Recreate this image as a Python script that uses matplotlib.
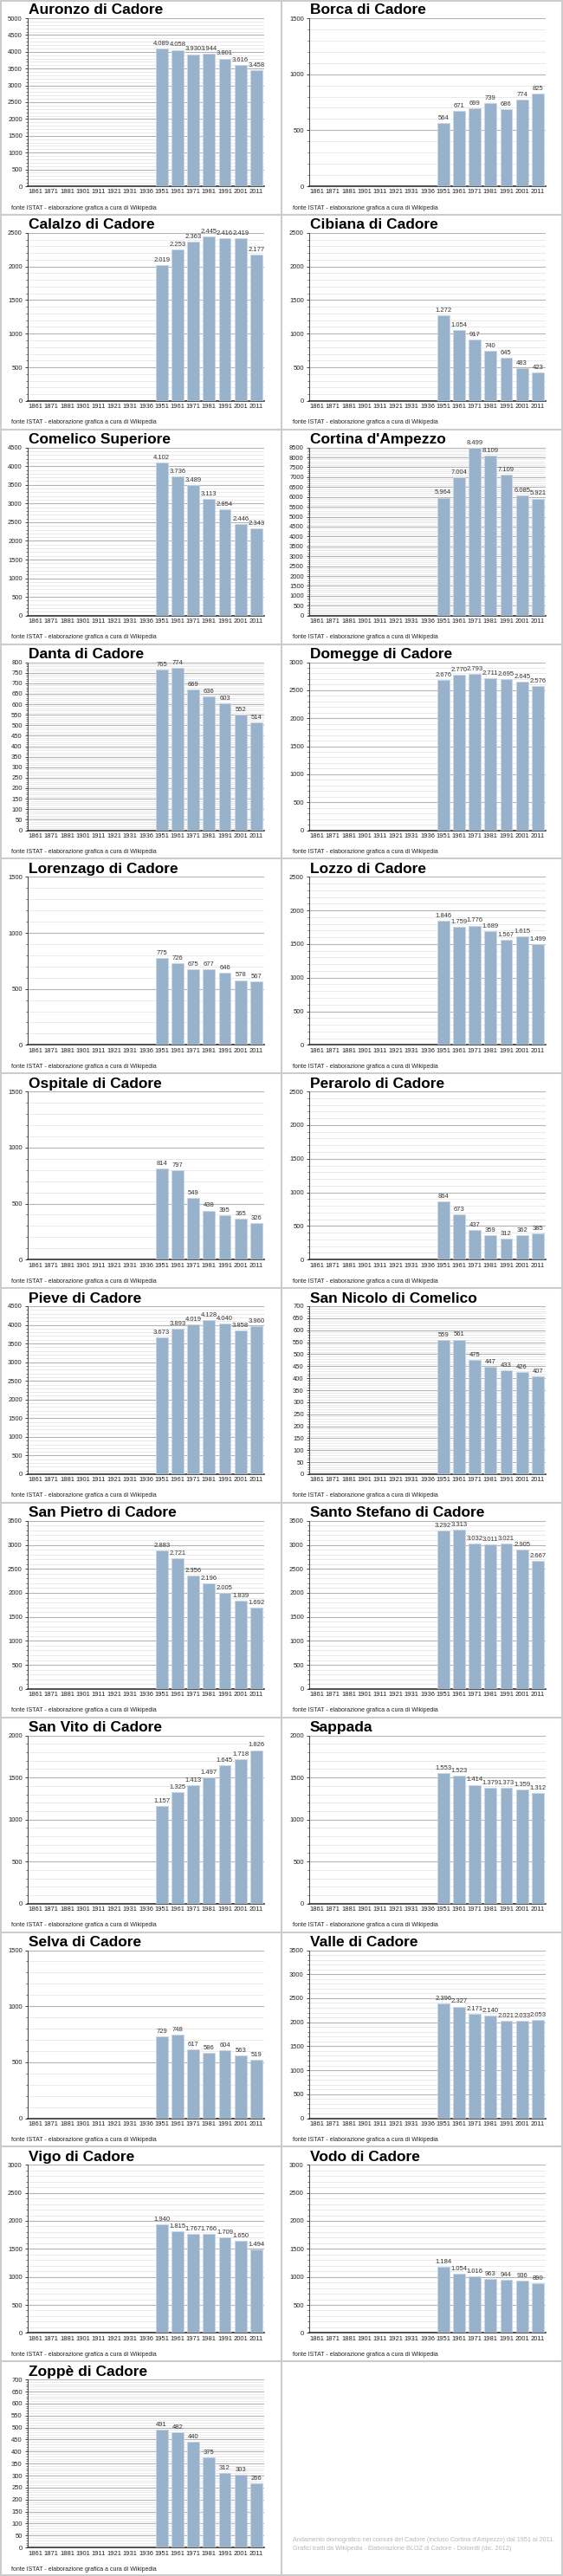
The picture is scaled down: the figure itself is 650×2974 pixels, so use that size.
import matplotlib.pyplot as plt
from matplotlib.lines import Line2D
from matplotlib.ticker import MultipleLocator

plt.rcParams['font.family'] = ['Liberation Sans Narrow', 'Liberation Sans', 'DejaVu Sans']

# census years on the x axis, only the last seven have data
years = ['1861', '1871', '1881', '1901', '1911', '1921', '1931', '1936',
         '1951', '1961', '1971', '1981', '1991', '2001', '2011']
data_years = ['1951', '1961', '1971', '1981', '1991', '2001', '2011']

auronzo = [4089, 4058, 3930, 3944, 3801, 3616, 3458]
borca = [564, 671, 699, 739, 686, 774, 825]
calalzo = [2019, 2253, 2363, 2445, 2416, 2419, 2177]
cibiana = [1272, 1054, 917, 740, 645, 483, 423]
comelico = [4102, 3736, 3489, 3113, 2854, 2446, 2343]
cortina = [5964, 7004, 8499, 8109, 7109, 6085, 5921]
danta = [765, 774, 669, 636, 603, 552, 514]
domegge = [2676, 2770, 2793, 2711, 2695, 2645, 2576]
lorenzago = [775, 726, 675, 677, 646, 578, 567]
lozzo = [1846, 1759, 1776, 1689, 1567, 1615, 1499]
ospitale = [814, 797, 549, 438, 395, 365, 326]
perarolo = [864, 673, 437, 359, 312, 362, 385]
pieve = [3673, 3893, 4019, 4128, 4040, 3858, 3960]
san_nicolo = [559, 561, 475, 447, 433, 426, 407]
san_pietro = [2883, 2721, 2356, 2196, 2005, 1839, 1692]
santo_stefano = [3292, 3313, 3032, 3011, 3021, 2905, 2667]
san_vito = [1157, 1325, 1413, 1497, 1645, 1718, 1826]
sappada = [1553, 1523, 1414, 1379, 1373, 1359, 1312]
selva = [729, 748, 617, 586, 604, 563, 519]
valle = [2396, 2327, 2171, 2140, 2021, 2033, 2053]
vigo = [1940, 1815, 1767, 1766, 1709, 1650, 1494]
vodo = [1184, 1054, 1016, 963, 944, 936, 890]
zoppe = [491, 482, 440, 375, 312, 303, 266]

towns = ['Auronzo di Cadore', 'Borca di Cadore', 'Calalzo di Cadore', 'Cibiana di Cadore',
         'Comelico Superiore', "Cortina d'Ampezzo", 'Danta di Cadore', 'Domegge di Cadore',
         'Lorenzago di Cadore', 'Lozzo di Cadore', 'Ospitale di Cadore', 'Perarolo di Cadore',
         'Pieve di Cadore', 'San Nicolo di Comelico', 'San Pietro di Cadore',
         'Santo Stefano di Cadore', 'San Vito di Cadore', 'Sappada', 'Selva di Cadore',
         'Valle di Cadore', 'Vigo di Cadore', 'Vodo di Cadore', 'Zoppè di Cadore']
series = [auronzo, borca, calalzo, cibiana, comelico, cortina, danta, domegge,
          lorenzago, lozzo, ospitale, perarolo, pieve, san_nicolo, san_pietro,
          santo_stefano, san_vito, sappada, selva, valle, vigo, vodo, zoppe]
y_max = [5000, 1500, 2500, 2500, 4500, 8500, 800, 3000, 1500, 2500, 1500, 2500,
         4500, 700, 3500, 3500, 2000, 2000, 1500, 3500, 3000, 3000, 700]
y_major = [500, 500, 500, 500, 500, 500, 50, 500, 500, 500, 500, 500,
           500, 50, 500, 500, 500, 500, 500, 500, 500, 500, 50]
y_minor = [100, 100, 100, 100, 100, 100, 10, 100, 100, 100, 100, 100,
           100, 10, 100, 100, 100, 100, 100, 100, 100, 100, 10]

source = 'fonte ISTAT - elaborazione grafica a cura di Wikipedia'
credit1 = "Andamento demografico nei comuni del Cadore (incluso Cortina d'Ampezzo) dal 1951 al 2011"
credit2 = 'Grafici tratti da Wikipedia - Elaborazione BLOZ di Cadore - Dolomiti (dic. 2012)'

W, H = 650, 2974
fig = plt.figure(figsize=(W / 100, H / 100), dpi=100)
fig.patch.set_facecolor('white')
cell_w = 325
cell_h = H / 12
small = 5.5


def fx(px):
    return px / W


def fy(py):
    return 1 - py / H


def it_fmt(v):
    return f'{v:,}'.replace(',', '.')


pos = [years.index(y) for y in data_years]

for i, name in enumerate(towns):
    r, c = divmod(i, 2)
    x0 = c * cell_w
    y0 = r * cell_h
    ax = fig.add_axes([fx(x0 + 32), fy(y0 + 215), (305 - 32) / W, (215 - 21) / H])
    bars = ax.bar(pos, series[i], width=0.75, color='#98b2cc',
                  edgecolor='#c8d6e5', linewidth=0.6, zorder=3)
    ax.bar_label(bars, labels=[it_fmt(v) for v in series[i]], padding=1.5,
                 fontsize=small, color='#333333')
    ax.set_xlim(-0.5, 14.5)
    ax.set_ylim(0, y_max[i])
    ax.set_xticks(range(len(years)))
    ax.set_xticklabels(years)
    ax.tick_params(axis='x', length=0, pad=2.5, labelsize=small, colors='#222222')
    ax.yaxis.set_major_locator(MultipleLocator(y_major[i]))
    ax.yaxis.set_minor_locator(MultipleLocator(y_minor[i]))
    ax.tick_params(axis='y', which='major', length=2, width=0.6, pad=2.5,
                   labelsize=small, colors='#222222')
    ax.tick_params(axis='y', which='minor', length=1.2, width=0.5, color='#444444')
    ax.grid(axis='y', which='major', color='#b4b4b4', lw=0.8)
    ax.grid(axis='y', which='minor', color='#e6e6e6', lw=0.6)
    ax.set_axisbelow(True)
    for s in ['top', 'right']:
        ax.spines[s].set_visible(False)
    ax.spines['left'].set_color('#444444')
    ax.spines['left'].set_linewidth(0.7)
    ax.spines['bottom'].set_color('#333333')
    ax.spines['bottom'].set_linewidth(1.2)

    fig.text(fx(x0 + 33), fy(y0 + 12), name, fontsize=12.5, fontweight='bold',
             va='center', ha='left', color='black')
    fig.text(fx(x0 + 13), fy(y0 + 240), source, fontsize=5, va='center',
             ha='left', color='#222222')

# note in the empty last cell
fig.text(fx(cell_w + 13), fy(11 * cell_h + 206), credit1, fontsize=5.2,
         color='#b8b8b8', va='center', ha='left')
fig.text(fx(cell_w + 13), fy(11 * cell_h + 216), credit2, fontsize=5.2,
         color='#b8b8b8', va='center', ha='left')

# cell borders
border = '#cccccc'
for xp in [1, cell_w, W - 1]:
    fig.add_artist(Line2D([fx(xp), fx(xp)], [0, 1], color=border, lw=1.5))
for r in range(13):
    yp = min(max(r * cell_h, 1), H - 1)
    fig.add_artist(Line2D([0, 1], [fy(yp), fy(yp)], color=border, lw=1.5))

fig.savefig('out.png', dpi=100, facecolor='white')
